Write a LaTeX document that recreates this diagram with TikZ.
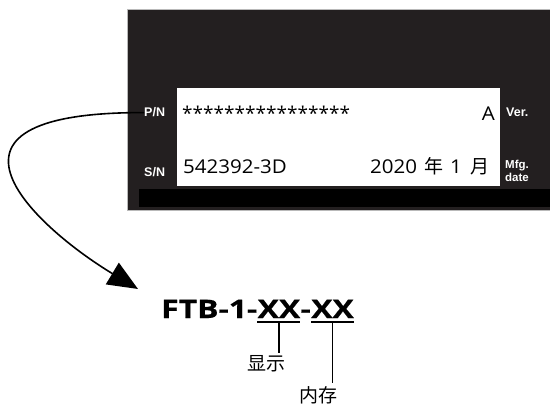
\documentclass[tikz,border=0pt]{standalone}
\usepackage{fontspec}
\setmainfont{Open Sans}
\newfontfamily\labfont{Liberation Sans}
\newfontfamily\txtfont{Open Sans}[FakeStretch=1.08]
\newfontfamily\starfont{Open Sans}
\newfontfamily\ftbfont{Open Sans}[FakeStretch=1.25,FakeBold=0.6]
\newfontfamily\cjk{Noto Sans CJK SC}
\usetikzlibrary{arrows.meta}
\definecolor{panel}{HTML}{231F20}
\tikzset{
  lab/.style={inner sep=0pt, text=white, font=\labfont\bfseries\fontsize{12.5}{14}\selectfont},
  val/.style={inner sep=0pt, text=black, font=\txtfont\fontsize{19}{22}\selectfont},
  ftb/.style={inner sep=0pt, font=\ftbfont\bfseries\fontsize{25.5}{30}\selectfont},
  cn/.style={inner sep=0pt, font=\cjk\fontsize{19}{22}\selectfont},
  uline/.style={line width=2pt},
  vline/.style={line width=1.6pt},
}
\begin{document}
\begin{tikzpicture}[x=1pt,y=-1pt]
\useasboundingbox (0,0) rectangle (550,404);
% panel
\fill[panel, draw=gray!55, line width=0.8pt] (127,9) rectangle (552,210);
\fill[white] (177,88) rectangle (500,186);
\fill[black] (139,189) rectangle (552,207);
% labels
\node[lab, anchor=base west] (PN) at (144,117) {P/N};
\node[lab, anchor=base west] (SN) at (144,177) {S/N};
\node[lab, anchor=base west] (Ver) at (506,117) {Ver.};
\node[lab, anchor=base west, font=\labfont\bfseries\fontsize{11.5}{14}\selectfont] (Mfg) at (505,168) {Mfg.};
\node[lab, anchor=base west, font=\labfont\bfseries\fontsize{11.5}{14}\selectfont] (Date) at (505,182) {date};
% values
\node[val, anchor=base west, font=\starfont\fontsize{19}{22}\selectfont] (stars) at (182,121) {****************};
\node[val, anchor=base east] (A) at (495,121) {A};
\node[val, anchor=base west] (sn) at (183,174) {542392-3D};
\node[val, anchor=base east] (date) at (490,174) {2020\hspace{7pt}{\cjk 年}\hspace{7pt}1\hspace{9pt}{\cjk 月}};
% part number
\node[ftb, anchor=base west] (p1) at (161,318) {FTB-1-};
\node[ftb, anchor=base west] (x1) at (p1.base east) {XX};
\node[ftb, anchor=base west] (p2) at (x1.base east) {-};
\node[ftb, anchor=base west] (x2) at (p2.base east) {XX};
\draw[uline] ([yshift=-4pt]x1.south west) -- coordinate (u1) ([yshift=-4pt]x1.south east);
\draw[uline] ([yshift=-4pt]x2.south west) -- coordinate (u2) ([yshift=-4pt]x2.south east);
\node[cn] (disp) at (266,364) {显示};
\node[cn] (mem) at (318,395) {内存};
\draw[vline, shorten >=3pt] (u1) -- (u1 |- disp.north);
\draw[vline, shorten >=3pt] (u2) -- (u2 |- mem.north);
% arrow
\coordinate (tip) at (138,289);
\draw[line width=1.6pt, -{Triangle[length=30pt,width=25pt]}] (PN.west) .. controls (-95,112) and (40,230) .. (tip);
\end{tikzpicture}
\end{document}
